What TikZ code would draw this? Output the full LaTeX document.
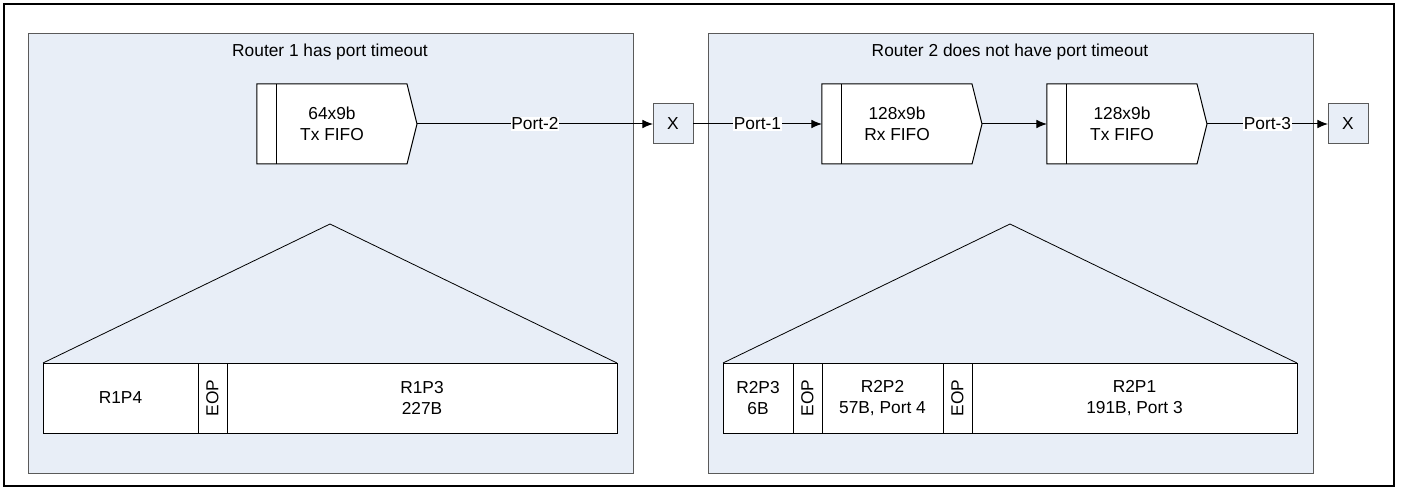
\documentclass[tikz,border=0pt]{standalone}
\usepackage{fontspec}
\setmainfont{Liberation Sans}
\usepackage{xcolor}
\usetikzlibrary{shapes.symbols, arrows.meta, positioning}
\definecolor{panelblue}{RGB}{232,238,247}
\definecolor{edgegray}{RGB}{90,90,90}

\begin{document}
\begin{tikzpicture}[
		x=0.75pt, y=-0.75pt,
		every node/.style={font=\fontsize{13}{15.5}\selectfont, align=center, outer sep=0pt},
		panel/.style={draw=edgegray, fill=panelblue, line width=0.75pt},
		fifo/.style={signal, signal to=east, signal pointer angle=152, draw, fill=white, line width=0.75pt,
			minimum width=120pt, minimum height=60pt, inner sep=0pt,
			path picture={\draw ([xshift=15pt]path picture bounding box.north west) -- ([xshift=15pt]path picture bounding box.south west);}},
		xbox/.style={draw=edgegray, fill=panelblue, line width=0.75pt, minimum width=30pt, minimum height=30pt, inner sep=0pt},
		seg/.style={draw, fill=white, line width=0.75pt, minimum height=52.5pt, inner sep=0pt},
		eop/.style={seg, minimum width=21.75pt},
		zoomline/.style={line width=0.6pt},
		arrow/.style={-{Latex[length=8pt,width=6.5pt]}, line width=0.75pt},
		portlabel/.style={fill=white, inner sep=0.5pt}
		]
		
		\useasboundingbox (0,0) rectangle (1403,488);
		\draw[line width=1.5pt] (4,4) rectangle (1394,486);
		
		% Panels
		\draw[panel] (28,34) rectangle (633,473);
		\draw[panel] (708,34) rectangle (1313,473);
		\node (title1) at (330,52) {Router 1 has port timeout};
		\node (title2) at (1010,52) {Router 2 does not have port timeout};
		
		% Nodes
		\node (txfifo1) [fifo] at (332,124) {64x9b\\Tx FIFO};
		\node (x1) [xbox] at (673,124) {X};
		\node (rxfifo2) [fifo] at (897,124) {128x9b\\Rx FIFO};
		\node (txfifo2) [fifo] at (1122,124) {128x9b\\Tx FIFO};
		\node (x2) [xbox] at (1348,124) {X};
		
		% Connections
		\draw [arrow] (txfifo1.east) -- node[portlabel] {Port-2} (x1.west);
		\draw [arrow] (x1.east) -- node[portlabel] {Port-1} (rxfifo2.west);
		\draw [arrow] (rxfifo2.east) -- (txfifo2.west);
		\draw [arrow] (txfifo2.east) -- node[portlabel] {Port-3} (x2.west);
		
		% Packets in router 1
		\node (r1p4) [seg, minimum width=116.25pt, anchor=west] at (43,398) {R1P4};
		\node (eop1) [eop, right=0pt of r1p4] {\rotatebox{90}{EOP}};
		\node (r1p3) [seg, minimum width=292.5pt, right=0pt of eop1] {R1P3\\227B};
		\coordinate (apex1) at (330,224);
		\draw [zoomline] (r1p4.north west) -- (apex1) -- (r1p3.north east);
		
		% Packets in router 2
		\node (r2p3) [seg, minimum width=52.5pt, anchor=west] at (723,398) {R2P3\\6B};
		\node (eop2) [eop, right=0pt of r2p3] {\rotatebox{90}{EOP}};
		\node (r2p2) [seg, minimum width=90.75pt, right=0pt of eop2] {R2P2\\57B, Port 4};
		\node (eop3) [eop, right=0pt of r2p2] {\rotatebox{90}{EOP}};
		\node (r2p1) [seg, minimum width=243.75pt, right=0pt of eop3] {R2P1\\191B, Port 3};
		\coordinate (apex2) at (1010,224);
		\draw [zoomline] (r2p3.north west) -- (apex2) -- (r2p1.north east);
		
\end{tikzpicture}
\end{document}
